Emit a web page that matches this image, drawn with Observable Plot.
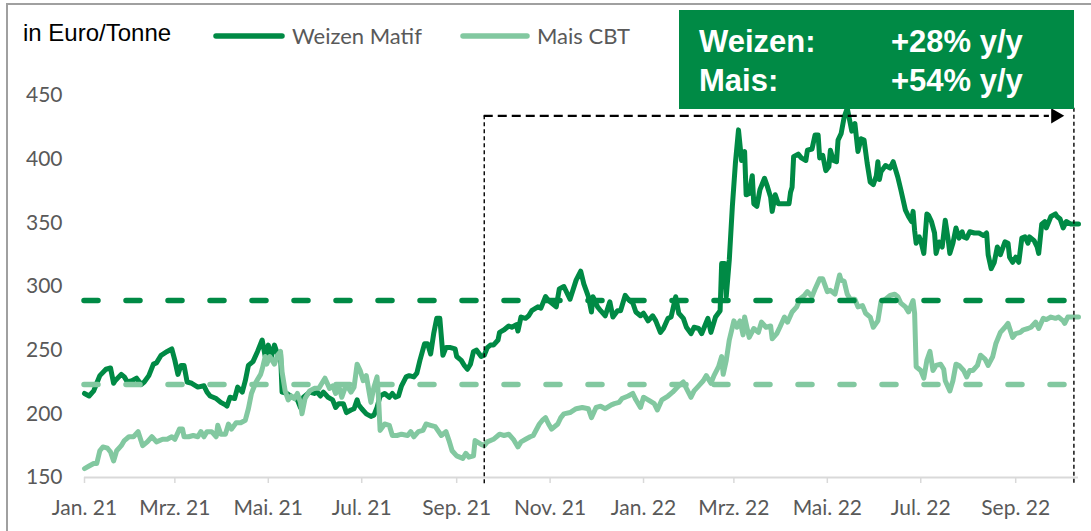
<!DOCTYPE html>
<html><head><meta charset="utf-8">
<script src="https://cdn.jsdelivr.net/npm/d3@7"></script>
<script src="https://cdn.jsdelivr.net/npm/@observablehq/plot@0.6"></script>
<style>
body{margin:0;background:#fff;}
#wrap{position:relative;width:1091px;height:531px;overflow:hidden;background:#fff;}
#frame{position:absolute;left:6px;top:3px;width:1200px;height:600px;border:2px solid #a0a0a0;box-sizing:border-box;}
#chart{position:absolute;left:0;top:0;}
#overlay{position:absolute;left:0;top:0;pointer-events:none;}
</style></head>
<body>
<div id="wrap"><div id="frame"></div><div id="chart"></div>
<svg id="overlay" width="1091" height="531"></svg></div>
<script>
// ---- data (days since 2021-01-01, Euro/Tonne) ----
const weizen = [[0,216],[3,214],[6,218],[8,224],[10,230],[14,235],[17,236],[19,224],[20,226],[24,231],[26,229],[28,225],[31,226],[34,228],[37,223],[39,225],[42,230],[45,239],[47,240],[50,246],[54,249],[57,251],[59,242],[61,231],[63,238],[65,238],[67,225],[70,224],[74,221],[78,222],[80,217],[82,214],[86,212],[89,209],[92,207],[93,206],[95,213],[98,212],[100,221],[103,217],[105,226],[107,238],[110,241],[113,249],[116,258],[118,245],[120,254],[122,245],[124,254],[126,247],[128,247],[129,217],[132,216],[136,213],[139,211],[141,205],[143,213],[147,217],[150,216],[152,217],[154,214],[156,217],[159,213],[162,211],[164,205],[166,208],[169,208],[171,201],[174,203],[176,204],[178,211],[179,207],[181,204],[184,200],[187,198],[189,199],[191,205],[193,214],[196,216],[199,213],[201,216],[203,213],[205,214],[207,222],[210,229],[212,230],[215,229],[217,232],[219,242],[222,255],[224,255],[226,247],[228,263],[230,275],[232,275],[234,246],[236,252],[239,252],[242,251],[243,245],[246,242],[248,238],[250,235],[252,239],[254,249],[256,250],[259,245],[261,246],[263,252],[265,254],[267,254],[270,258],[271,264],[274,266],[277,269],[279,268],[282,270],[283,265],[285,276],[288,275],[290,277],[292,281],[296,284],[298,283],[301,292],[303,289],[305,287],[308,284],[310,298],[313,300],[317,290],[321,305],[324,312],[326,302],[329,292],[331,280],[332,292],[335,284],[337,281],[340,277],[343,288],[345,276],[348,281],[350,281],[353,293],[355,290],[358,287],[360,280],[363,277],[365,279],[368,273],[371,277],[373,273],[376,264],[378,267],[381,275],[383,276],[386,292],[388,279],[391,275],[393,268],[396,263],[398,268],[401,267],[403,263],[405,269],[407,275],[409,264],[410,268],[412,276],[415,281],[416,318],[418,318],[419,292],[421,321],[423,363],[425,397],[427,423],[429,399],[431,406],[432,372],[434,373],[436,387],[437,365],[439,363],[441,376],[444,385],[446,378],[448,370],[449,359],[451,372],[453,365],[456,365],[460,365],[461,374],[462,378],[463,402],[466,404],[468,401],[471,399],[472,407],[475,408],[477,419],[479,419],[480,401],[482,403],[484,391],[486,394],[487,407],[489,399],[491,398],[492,415],[494,420],[496,433],[498,440],[500,428],[501,422],[503,428],[505,406],[507,416],[509,415],[511,397],[513,382],[515,380],[517,387],[518,398],[519,384],[520,390],[523,395],[526,393],[528,398],[531,386],[533,376],[536,360],[538,355],[540,351],[541,359],[542,344],[543,334],[545,339],[546,336],[548,326],[550,357],[551,356],[553,351],[555,342],[556,326],[558,335],[560,331],[562,352],[564,336],[565,326],[567,334],[569,346],[571,338],[573,343],[574,339],[576,338],[578,343],[581,342],[584,342],[587,340],[589,342],[590,325],[592,314],[594,319],[596,331],[598,325],[601,335],[603,334],[604,323],[606,319],[608,323],[610,319],[612,338],[614,339],[616,334],[617,339],[620,336],[622,331],[623,326],[625,349],[627,351],[628,346],[631,355],[634,357],[635,355],[637,353],[639,346],[641,351],[644,349],[646,349],[649,349]];
const mais = [[0,157],[3,159],[6,161],[8,161],[10,171],[12,174],[15,173],[17,170],[19,163],[21,171],[24,175],[26,179],[29,182],[32,182],[35,186],[38,175],[41,178],[44,182],[47,178],[51,180],[54,180],[57,182],[59,180],[62,188],[64,188],[65,182],[68,182],[71,183],[74,182],[76,186],[78,182],[80,186],[83,186],[86,182],[87,191],[89,184],[92,184],[94,192],[96,188],[99,193],[102,193],[105,195],[107,204],[109,216],[112,225],[115,231],[116,235],[118,245],[119,239],[121,245],[124,239],[126,246],[128,249],[129,233],[131,218],[133,211],[135,214],[137,212],[139,216],[141,209],[142,200],[144,212],[147,218],[150,220],[153,220],[155,224],[157,228],[160,220],[162,222],[164,216],[166,222],[168,213],[170,220],[172,221],[174,217],[176,221],[178,239],[180,234],[182,226],[184,230],[186,216],[187,209],[189,221],[191,229],[192,212],[193,187],[196,192],[199,191],[201,183],[204,183],[207,184],[211,183],[213,186],[215,182],[218,186],[221,187],[223,192],[226,191],[229,190],[233,183],[236,186],[238,179],[240,171],[243,167],[247,165],[249,169],[251,166],[254,167],[255,179],[259,176],[261,175],[263,178],[267,180],[271,184],[274,183],[277,184],[280,180],[283,174],[285,178],[288,180],[291,182],[293,183],[297,192],[299,195],[301,197],[303,192],[305,188],[309,192],[311,197],[313,200],[317,201],[321,204],[325,205],[329,204],[331,197],[334,205],[337,206],[340,204],[344,207],[346,208],[349,209],[351,212],[355,214],[358,216],[360,211],[363,205],[365,213],[368,211],[372,208],[374,203],[377,211],[381,214],[384,217],[388,222],[391,225],[393,220],[396,213],[398,218],[401,222],[404,226],[406,230],[409,224],[411,230],[414,237],[416,245],[417,231],[419,242],[421,258],[424,273],[426,268],[428,273],[430,262],[431,276],[434,260],[437,267],[440,264],[442,272],[445,268],[448,269],[449,259],[452,263],[454,268],[457,276],[459,272],[462,280],[465,284],[467,290],[470,293],[472,296],[475,292],[477,298],[480,306],[482,306],[485,296],[487,297],[490,294],[493,309],[494,305],[496,304],[498,294],[500,290],[503,290],[505,284],[508,285],[510,279],[513,276],[515,268],[518,273],[520,288],[523,290],[526,293],[529,294],[531,292],[533,287],[536,284],[538,280],[541,289],[542,279],[543,237],[546,234],[548,228],[550,242],[552,249],[554,234],[556,238],[559,239],[561,235],[562,226],[565,218],[567,226],[569,239],[571,238],[574,234],[576,229],[578,234],[580,234],[583,238],[585,246],[588,243],[590,238],[593,245],[595,255],[598,264],[601,268],[603,271],[606,260],[608,263],[611,264],[613,266],[616,267],[618,268],[621,272],[623,267],[626,275],[628,274],[631,276],[634,275],[636,276],[639,273],[640,271],[642,276],[646,276],[649,276]];
const averages = {weizen: 289, mais: 223};
const yTicks = [150, 200, 250, 300, 350, 400, 450];
const tickMonths = ["2021-01-01","2021-03-01","2021-05-01","2021-07-01","2021-09-01","2021-11-01","2022-01-01","2022-03-01","2022-05-01","2022-07-01","2022-09-01"];
const tickLabels = ["Jan. 21","Mrz. 21","Mai. 21","Jul. 21","Sep. 21","Nov. 21","Jan. 22","Mrz. 22","Mai. 22","Jul. 22","Sep. 22"];
const seriesNames = ["Weizen Matif", "Mais CBT"];
const boxLines = [["Weizen:", "+28% y/y"], ["Mais:", "+54% y/y"]];
const periodStart = "2021-09-19", periodEnd = "2022-10-09", arrowAt = "2022-09-27", arrowBase = "2022-09-23";
const bracketTop = 434, bracketRightTop = 440, bracketBottom = 144;

const dark = "#008a45", light = "#82c8a0";
const start = new Date(Date.UTC(2021, 0, 1));
const toRows = s => s.map(([d, v]) => ({date: d3.utcDay.offset(start, d), value: v}));
const wRows = toRows(weizen), mRows = toRows(mais);
const xEnd = wRows[wRows.length - 1].date;
const refEnd = new Date(periodEnd);
const tickDates = tickMonths.map(d => new Date(d));
const labelOf = new Map(tickDates.map((d, i) => [+d, tickLabels[i]]));

const chart = Plot.plot({
  width: 1091, height: 531,
  marginTop: 95, marginBottom: 54, marginLeft: 84, marginRight: 13,
  style: {fontFamily: "Lato, sans-serif", fontSize: "21px", color: "#595959", background: "transparent", overflow: "visible"},
  x: {type: "utc", domain: [start, xEnd], axis: null},
  y: {domain: [150, 450], axis: null},
  marks: [
    Plot.ruleY([150], {stroke: "#d9d9d9", strokeWidth: 2}),
    Plot.axisX({ticks: tickDates, tickFormat: d => labelOf.get(+d), tickSize: 6, tickPadding: 17, stroke: "#d9d9d9", strokeWidth: 1.5, fill: "#595959", label: null}),
    Plot.axisY({ticks: yTicks, tickSize: 0, tickPadding: 22, fill: "#595959", label: null}),
    Plot.line(wRows, {x: "date", y: "value", stroke: dark, strokeWidth: 5, strokeLinejoin: "round", strokeLinecap: "round"}),
    Plot.line(mRows, {x: "date", y: "value", stroke: light, strokeWidth: 5, strokeLinejoin: "round", strokeLinecap: "round"}),
    Plot.ruleY([averages.weizen], {x1: start, x2: refEnd, stroke: dark, strokeWidth: 5.5, strokeDasharray: "14,28", strokeLinecap: "round"}),
    Plot.ruleY([averages.mais], {x1: start, x2: refEnd, stroke: light, strokeWidth: 5.5, strokeDasharray: "14,28", strokeLinecap: "round"}),
    Plot.ruleX([new Date(periodStart)], {y1: bracketTop, y2: bracketBottom, stroke: "#000", strokeWidth: 1.4, strokeDasharray: "4,3"}),
    Plot.ruleX([refEnd], {y1: bracketRightTop, y2: bracketBottom, stroke: "#000", strokeWidth: 1.4, strokeDasharray: "4,3"}),
    Plot.ruleY([bracketTop], {x1: new Date(periodStart), x2: new Date(arrowBase), stroke: "#000", strokeWidth: 2.4, strokeDasharray: "9,5"}),
    Plot.dot([{date: new Date(arrowAt), value: bracketTop}], {x: "date", y: "value", symbol: "triangle", r: 5.6, fill: "#000", stroke: null, rotate: 90})
  ]
});
document.getElementById("chart").appendChild(chart);

// overlay: unit label, legend, highlight box
const ov = d3.select("#overlay");
ov.append("text").attr("x", 23).attr("y", 41).attr("font-family", "Liberation Sans, Arial, sans-serif").attr("font-size", 24).attr("fill", "#000").text("in Euro/Tonne");
const leg = [{x1: 216, x2: 282, tx: 292, c: dark}, {x1: 463, x2: 527, tx: 537, c: light}];
leg.forEach((l, i) => {
  ov.append("line").attr("x1", l.x1).attr("x2", l.x2).attr("y1", 36).attr("y2", 36).attr("stroke", l.c).attr("stroke-width", 5.5).attr("stroke-linecap", "round");
  ov.append("text").attr("x", l.tx).attr("y", 44).attr("font-family", "Lato, sans-serif").attr("font-size", 22).attr("fill", "#595959").text(seriesNames[i]);
});
ov.append("rect").attr("x", 679).attr("y", 10).attr("width", 395).attr("height", 99).attr("fill", dark);
boxLines.forEach((ln, i) => {
  const y = 52 + i * 39;
  ov.append("text").attr("x", 699).attr("y", y).attr("font-family", "Liberation Sans, Arial, sans-serif").attr("font-weight", "bold").attr("font-size", 31).attr("fill", "#fff").text(ln[0]);
  ov.append("text").attr("x", 891).attr("y", y).attr("font-family", "Liberation Sans, Arial, sans-serif").attr("font-weight", "bold").attr("font-size", 31).attr("fill", "#fff").text(ln[1]);
});
</script>
</body></html>
